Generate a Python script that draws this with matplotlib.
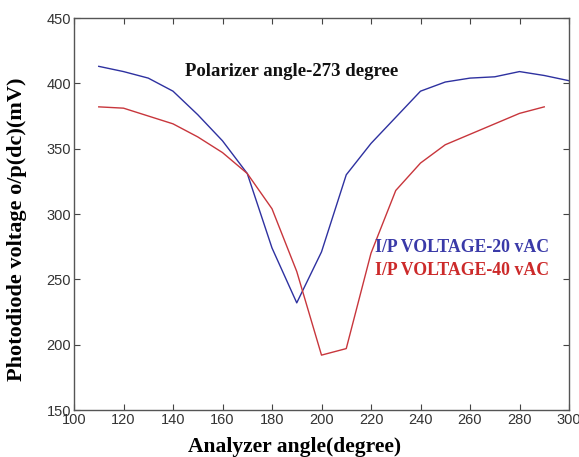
import matplotlib
matplotlib.use("Agg")
import matplotlib.pyplot as plt

# analyzer angle (degree)
angle_20 = [110, 120, 130, 140, 150, 160, 170, 180, 190, 200,
            210, 220, 230, 240, 250, 260, 270, 280, 290, 300]
volt_20 = [413, 409, 404, 394, 376, 356, 331, 274, 232, 271,
           330, 354, 374, 394, 401, 404, 405, 409, 406, 402]

angle_40 = [110, 120, 130, 140, 150, 160, 170, 180, 190, 200,
            210, 220, 230, 240, 250, 260, 270, 280, 290]
volt_40 = [382, 381, 375, 369, 359, 347, 331, 304, 256, 192,
           197, 270, 318, 339, 353, 361, 369, 377, 382]

x_ticks = [100, 120, 140, 160, 180, 200, 220, 240, 260, 280, 300]
y_ticks = [150, 200, 250, 300, 350, 400, 450]

serif = "Liberation Serif"
sans = "Liberation Sans"

fig = plt.figure(figsize=(5.79, 4.57), dpi=100)
ax = fig.add_axes([74 / 579, 1 - 410 / 457, 495 / 579, 392 / 457])

ax.plot(angle_20, volt_20, color="#2e31a0", lw=1.0)
ax.plot(angle_40, volt_40, color="#c8363c", lw=1.0)

ax.set_xlim(100, 300)
ax.set_ylim(150, 450)
ax.set_xticks(x_ticks)
ax.set_yticks(y_ticks)
ax.tick_params(direction="in", top=True, right=True, length=4, width=0.8,
               color="#444444", labelcolor="#333333", labelsize=10.5, pad=2)
for lab in ax.get_xticklabels() + ax.get_yticklabels():
    lab.set_family(sans)
for s in ax.spines.values():
    s.set_color("#555555")
    s.set_linewidth(1.0)

ax.text(145, 409, "Polarizer angle-273 degree", family=serif, weight="bold",
        fontsize=13.5, color="#111111", va="center")
ax.text(221.5, 274, "I/P VOLTAGE-20 vAC", family=serif, weight="bold",
        fontsize=12.8, color="#3a3aa8", va="center")
ax.text(221.5, 256.5, "I/P VOLTAGE-40 vAC", family=serif, weight="bold",
        fontsize=12.8, color="#cc2a2a", va="center")

ax.set_xlabel("Analyzer angle(degree)", family=serif, weight="bold",
              fontsize=15.5)
ax.set_ylabel("Photodiode voltage o/p(dc)(mV)", family=serif, weight="bold",
              fontsize=16)
ax.xaxis.set_label_coords(0.446, -0.068)
ax.yaxis.set_label_coords(-0.095, 0.462)

fig.savefig("out.png", dpi=100)
